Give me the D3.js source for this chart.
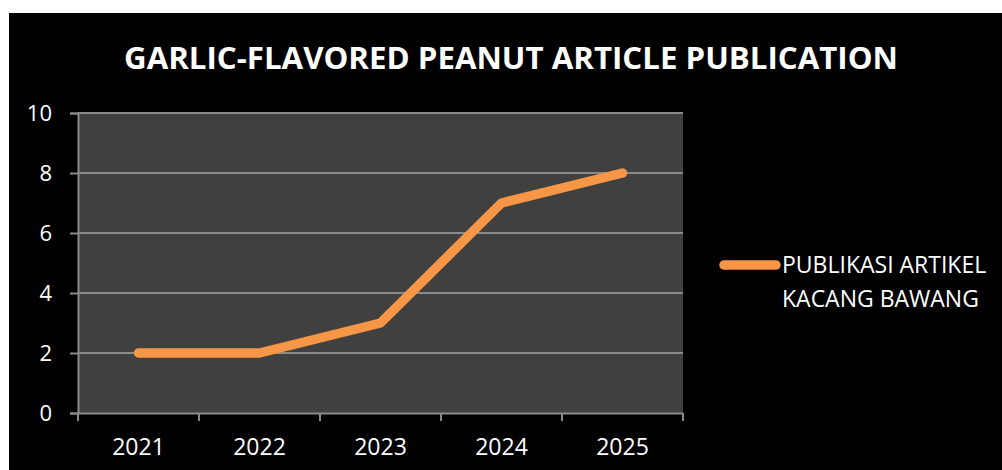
<!DOCTYPE html>
<html>
<head>
<meta charset="utf-8">
<script src="https://cdn.jsdelivr.net/npm/d3@7"></script>
<style>
  html, body { margin: 0; padding: 0; background: #fff; }
  svg { display: block; }
  text { font-family: "Open Sans", "Noto Sans", sans-serif; fill: #fff; }
</style>
</head>
<body>
<svg id="chart" width="1002" height="470"></svg>
<script>
// data
const years = ["2021", "2022", "2023", "2024", "2025"];
const publications = [2, 2, 3, 7, 8];
const yTicks = [0, 2, 4, 6, 8, 10];
const seriesName = ["PUBLIKASI ARTIKEL", "KACANG BAWANG"];
const title = "GARLIC-FLAVORED PEANUT ARTICLE PUBLICATION";

const svg = d3.select("#chart");
const W = 1002, H = 470;

// black chart background (thin white border top/left)
svg.append("rect")
    .attr("x", 9).attr("y", 13)
    .attr("width", W - 9).attr("height", H - 13)
    .attr("fill", "#000");

const plot = { left: 78, right: 683, top: 113, bottom: 413 };

const x = d3.scaleBand()
    .domain(years)
    .range([plot.left, plot.right]);

const y = d3.scaleLinear()
    .domain([0, 10])
    .range([plot.bottom, plot.top]);

// plot area
svg.append("rect")
    .attr("x", plot.left).attr("y", plot.top)
    .attr("width", plot.right - plot.left)
    .attr("height", plot.bottom - plot.top)
    .attr("fill", "#404040");

// gridlines
svg.append("g")
    .selectAll("line")
    .data(yTicks.filter(d => d > 0))
    .join("line")
    .attr("x1", plot.left).attr("x2", plot.right)
    .attr("y1", d => y(d)).attr("y2", d => y(d))
    .attr("stroke", "#8a8a8a")
    .attr("stroke-width", 2);

// y axis
const yAxis = svg.append("g")
    .attr("transform", `translate(${plot.left},0)`)
    .call(d3.axisLeft(y).tickValues(yTicks).tickSize(8));
yAxis.select(".domain").attr("stroke", "#8a8a8a").attr("stroke-width", 2);
yAxis.selectAll(".tick line").attr("stroke", "#8a8a8a").attr("stroke-width", 2);
yAxis.selectAll(".tick text")
    .attr("fill", "#fff")
    .attr("x", -26)
    .attr("dy", "0.36em")
    .style("font-size", "22px");

// x axis - ticks at category boundaries
const xAxis = svg.append("g")
    .attr("transform", `translate(0,${plot.bottom})`)
    .call(d3.axisBottom(x).tickSize(0));
xAxis.select(".domain").attr("stroke", "#8a8a8a").attr("stroke-width", 2);
xAxis.selectAll(".tick text")
    .attr("fill", "#fff")
    .attr("y", 42)
    .attr("dy", 0)
    .style("font-size", "23px");

const boundaries = years.map(d => x(d)).concat([x(years[years.length - 1]) + x.bandwidth()]);
svg.append("g")
    .selectAll("line")
    .data(boundaries)
    .join("line")
    .attr("x1", d => d).attr("x2", d => d)
    .attr("y1", plot.bottom).attr("y2", plot.bottom + 8)
    .attr("stroke", "#8a8a8a")
    .attr("stroke-width", 2);

// series line
const line = d3.line()
    .x((d, i) => x(years[i]) + x.bandwidth() / 2)
    .y(d => y(d));

svg.append("path")
    .datum(publications)
    .attr("d", line)
    .attr("fill", "none")
    .attr("stroke", "#f79646")
    .attr("stroke-width", 9.5)
    .attr("stroke-linecap", "round")
    .attr("stroke-linejoin", "round");

// title
svg.append("text")
    .attr("x", 511)
    .attr("y", 69)
    .attr("text-anchor", "middle")
    .style("font-size", "30px")
    .style("font-weight", "bold")
    .attr("textLength", 774)
    .attr("lengthAdjust", "spacingAndGlyphs")
    .text(title);

// legend
svg.append("line")
    .attr("x1", 724).attr("x2", 776)
    .attr("y1", 265).attr("y2", 265)
    .attr("stroke", "#f79646")
    .attr("stroke-width", 9.5)
    .attr("stroke-linecap", "round");

svg.append("text")
    .style("font-size", "23px")
    .selectAll("tspan")
    .data(seriesName)
    .join("tspan")
    .attr("x", 782)
    .attr("y", (d, i) => 273 + i * 34)
    .text(d => d);
</script>
</body>
</html>
